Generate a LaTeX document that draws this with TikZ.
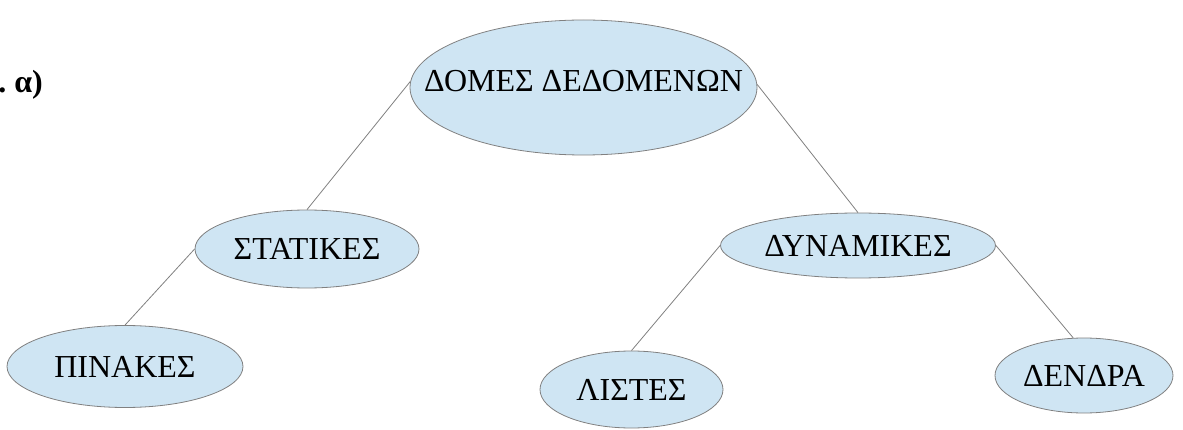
\documentclass[tikz,border=0pt]{standalone}
\usepackage{fontspec}
\setmainfont{Liberation Serif}
\usetikzlibrary{shapes.geometric}
\definecolor{nodeblue}{RGB}{207,229,243}
\definecolor{linegray}{RGB}{128,128,128}
\begin{document}
\begin{tikzpicture}[x=1pt,y=-1pt,
        blob/.style={ellipse,draw=linegray,fill=nodeblue,line width=0.8pt,inner sep=0pt,
            font=\fontsize{32}{38}\selectfont},
        link/.style={draw=linegray,line width=0.8pt}]
    \useasboundingbox (0,0) rectangle (1183,430);
    \node [anchor=base east,inner sep=0pt,font=\fontsize{32}{38}\selectfont\bfseries] (tag) at (43,93) {.\ α)};
    \node [blob,inner xsep=-60pt,minimum width=347pt,minimum height=135pt,text depth=14pt] (root) at (583.5,87.5) {ΔΟΜΕΣ ΔΕΔΟΜΕΝΩΝ};
    \node [blob,minimum width=224pt,minimum height=78pt] (stat) at (307,249) {ΣΤΑΤΙΚΕΣ};
    \node [blob,minimum width=275pt,minimum height=65pt] (dyn) at (858,245.5) {ΔΥΝΑΜΙΚΕΣ};
    \node [blob,minimum width=236pt,minimum height=82pt] (pin) at (125,366.5) {ΠΙΝΑΚΕΣ};
    \node [blob,minimum width=183pt,minimum height=77pt] (list) at (631.5,389.5) {ΛΙΣΤΕΣ};
    \node [blob,minimum width=178pt,minimum height=75pt] (dend) at (1084,375.5) {ΔΕΝΔΡΑ};
    \draw [link] (root.178) -- (stat.north);
    \draw [link] (root.1) -- (dyn.north);
    \draw [link] (stat.west) -- (pin.north);
    \draw [link] (dyn.west) -- (list.north);
    \draw [link] (dyn.east) -- (dend.106);
\end{tikzpicture}
\end{document}
